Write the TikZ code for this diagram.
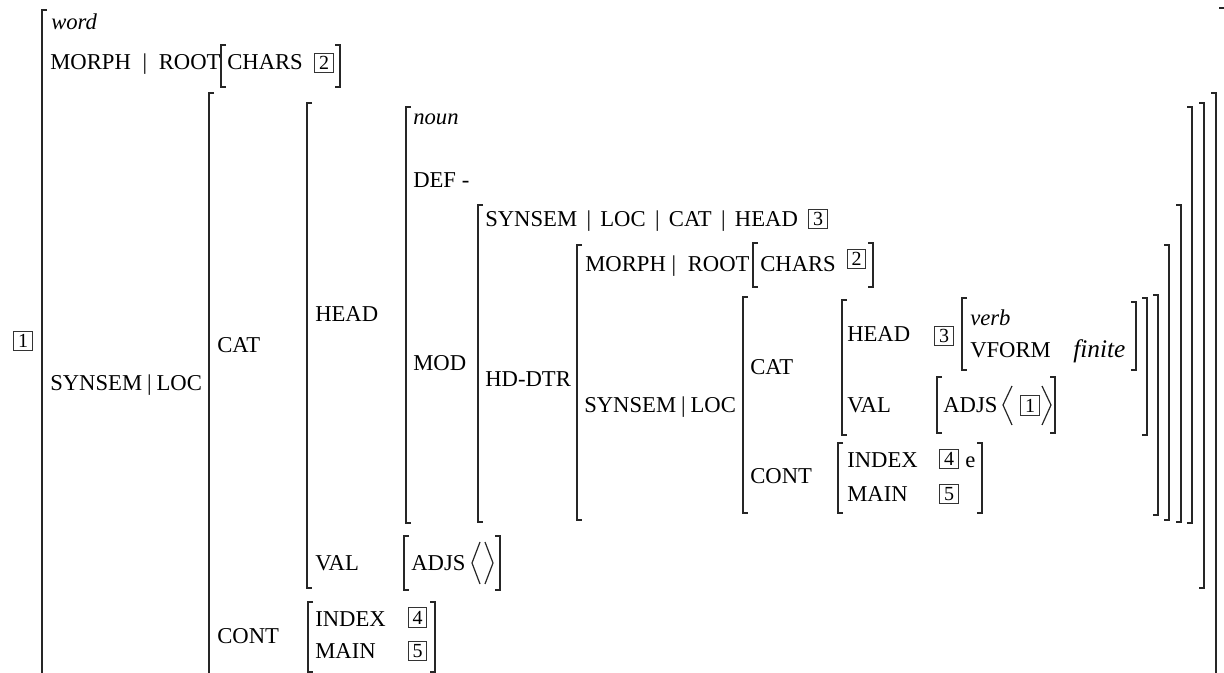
\documentclass[tikz,border=0pt]{standalone}
\usepackage{fontspec}
\setmainfont{Liberation Serif}
\newcommand\avmL[3]{\draw[brk] (#1+5,#2) -- (#1,#2) -- (#1,#3) -- (#1+5,#3);}
\newcommand\avmR[3]{\draw[brk] (#1-5,#2) -- (#1,#2) -- (#1,#3) -- (#1-5,#3);}
\begin{document}
\begin{tikzpicture}[x=0.75pt,y=-0.75pt,
  txt/.style={inner sep=0pt,anchor=base west,font=\fontsize{17}{20}\selectfont},
  tag/.style={draw=black!80,line width=0.9pt,inner sep=0pt,minimum width=14pt,minimum height=14.5pt,font=\fontsize{15}{15}\selectfont},
  brk/.style={line width=1.1pt,black!85},
  ang/.style={line width=0.9pt,black!85}]
\useasboundingbox (0,0) rectangle (1224,673);
% ---------- brackets ----------
\avmL{42}{10}{700}
\draw[brk] (1219,8) -- (1226,8);
\avmL{221}{45}{87} \avmR{340}{45}{87}
\avmL{209}{93}{700} \avmR{1216}{93}{700}
\avmL{307}{103}{588} \avmR{1204}{103}{588}
\avmL{406}{107}{523} \avmR{1192}{107}{523}
\avmL{478}{205}{522} \avmR{1181}{205}{522}
\avmL{577}{245}{520} \avmR{1169}{245}{520}
\avmL{753}{243}{287} \avmR{873}{243}{287}
\avmL{743}{297}{513} \avmR{1158}{295}{515}
\avmL{842}{300}{435} \avmR{1147}{298}{435}
\avmL{962}{298}{370} \avmR{1136}{302}{370}
\avmL{937}{377}{433} \avmR{1055}{377}{433}
\avmL{838}{443}{513} \avmR{982}{443}{513}
\avmL{404}{536}{590} \avmR{500}{536}{590}
\avmL{308}{602}{672} \avmR{435}{602}{672}
% ---------- angle brackets ----------
\draw[ang] (480,542) -- (472,563) -- (480,584);
\draw[ang] (485,542) -- (493,563) -- (485,584);
\draw[ang] (1012,386) -- (1003,405) -- (1012,425);
\draw[ang] (1042,386) -- (1051,405) -- (1042,425);
% ---------- texts ----------
\node[txt] (word) at (51,30) {\textit{word}};
\node[txt] (morph1) at (50,70) {MORPH\hspace{8.8pt}|\hspace{8.8pt}ROOT};
\node[txt] (chars1) at (227,70) {CHARS};
\node[tag] (t2a) at (324,63) {2};
\node[tag] (t1a) at (23,341) {1};
\node[txt] (sl1) at (50,391) {SYNSEM\hspace{3.7pt}|\hspace{3.7pt}LOC};
\node[txt] (cat1) at (217,353) {CAT};
\node[txt] (head1) at (315,322) {HEAD};
\node[txt] (noun) at (413,125) {\textit{noun}};
\node[txt] (def) at (413,188) {DEF -};
\node[txt] (mod) at (413,371) {MOD};
\node[txt] (path) at (485,227) {SYNSEM\hspace{7pt}|\hspace{7pt}LOC\hspace{7pt}|\hspace{7pt}CAT\hspace{7pt}|\hspace{7pt}HEAD};
\node[tag] (t3a) at (818,219) {3};
\node[txt] (hddtr) at (485,387) {HD-DTR};
\node[txt] (morph2) at (585,272) {MORPH\hspace{4.3pt}|\hspace{8.8pt}ROOT};
\node[txt] (chars2) at (760,272) {CHARS};
\node[tag] (t2b) at (856.5,259) {2};
\node[txt] (sl2) at (584,412) {SYNSEM\hspace{3.7pt}|\hspace{3.7pt}LOC};
\node[txt] (cat2) at (750,374) {CAT};
\node[txt] (head2) at (847,342) {HEAD};
\node[tag] (t3b) at (944,336) {3};
\node[txt] (verb) at (970,326) {\textit{verb}};
\node[txt] (vform) at (970,358) {VFORM};
\node[txt,font=\fontsize{19}{20}\selectfont] (finite) at (1073,358) {\textit{finite}};
\node[txt] (val2) at (847,412) {VAL};
\node[txt] (adjs2) at (943,412) {ADJS};
\node[tag] (t1b) at (1030,405.5) {1};
\node[txt] (cont2) at (750,483) {CONT};
\node[txt] (index2) at (847,467) {INDEX};
\node[tag] (t4b) at (949,459) {4};
\node[txt] (e) at (965,467) {e};
\node[txt] (main2) at (847,501) {MAIN};
\node[tag] (t5b) at (949,494) {5};
\node[txt] (val1) at (315,570) {VAL};
\node[txt] (adjs1) at (411,570) {ADJS};
\node[txt] (cont1) at (217,643) {CONT};
\node[txt] (index1) at (315,626) {INDEX};
\node[tag] (t4a) at (417.5,617.5) {4};
\node[txt] (main1) at (315,658) {MAIN};
\node[tag] (t5a) at (417.5,651) {5};
\end{tikzpicture}
\end{document}
